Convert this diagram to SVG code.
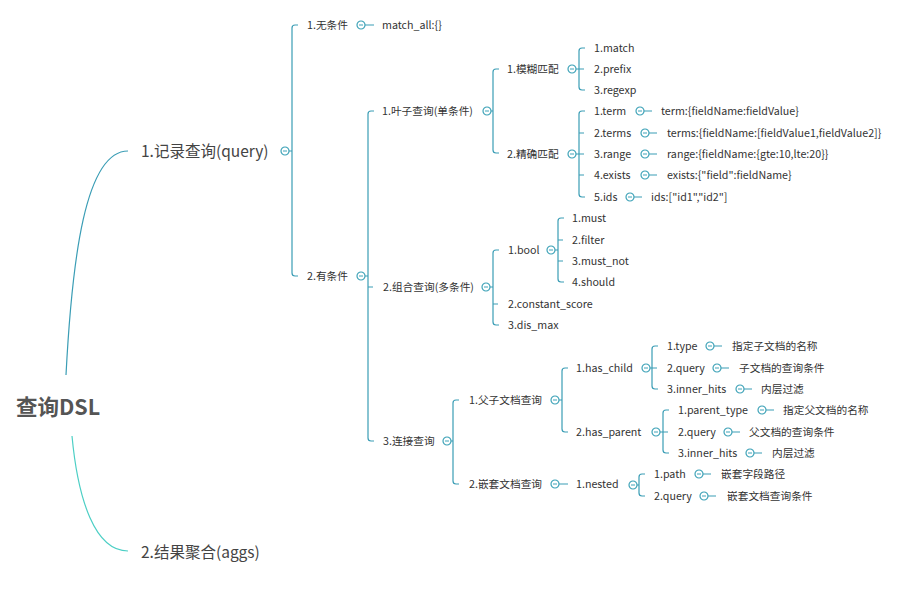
<svg xmlns="http://www.w3.org/2000/svg" xmlns:xlink="http://www.w3.org/1999/xlink" width="918" height="598" viewBox="0 0 918 598">
<style>
text{font-family:"Noto Sans CJK SC","Liberation Sans",sans-serif;fill:#333}
.t{font-size:10.7px}
.l1{font-size:15.5px;fill:#444}
.root{font-size:21.5px;font-weight:bold;fill:#555}
.br{fill:none;stroke:#3a9db5;stroke-width:1.2}
.cv1{fill:none;stroke:#3a9db5;stroke-width:1.2}
.cv2{fill:none;stroke:#4ccfc5;stroke-width:1.2}
.tg circle{fill:#fff;stroke:#3fa3b8;stroke-width:1.2}
.tg path{stroke:#3fa3b8;stroke-width:1}
</style>
<defs>
<g id="tog" class="tg"><circle cx="0" cy="0" r="4"/><path d="M-2,0H2"/></g>
</defs>
<rect width="918" height="598" fill="#fff"/>
<g id="connectors">
<path class="cv1" d="M66,375 C72,260 85,151 128,151"/>
<path class="cv2" d="M72,436 C78,500 95,551 128,551"/>
<path class="br" d="M298,25H295Q292,25 292,28V273Q292,276 295,276H298M289,151H292"/>
<path class="br" d="M374,111H371Q368,111 368,114V438Q368,441 371,441H374M368,287H373M365,276H368"/>
<path class="br" d="M499,69H496Q493,69 493,72V150Q493,153 496,153H499M491,111H493"/>
<path class="br" d="M585,48H582Q579,48 579,51V87Q579,90 582,90H585M579,69H584M576,69H579"/>
<path class="br" d="M585,111H582Q579,111 579,114V194Q579,197 582,197H585M579,133H584M579,154H584M579,175H584M576,154H579"/>
<path class="br" d="M499,250H496Q493,250 493,253V322Q493,325 496,325H499M493,304H498M490,287H493"/>
<path class="br" d="M564,218H561Q558,218 558,221V279Q558,282 561,282H564M558,240H563M558,261H563M555,250H558"/>
<path class="br" d="M459,400H456Q453,400 453,403V481Q453,484 456,484H459M451,441H453"/>
<path class="br" d="M568,368H565Q562,368 562,371V429Q562,432 565,432H568M559,400H562"/>
<path class="br" d="M658,346H655Q652,346 652,349V386Q652,389 655,389H658M652,368H657M650,368H652"/>
<path class="br" d="M669,410H666Q663,410 663,413V450Q663,453 666,453H669M663,432H668M660,432H663"/>
<path class="br" d="M645,474H642Q639,474 639,477V493Q639,496 642,496H645M637,485H639"/>
<path class="br" d="M365,25H374M559,484H568M644,111H652M649,133H657M649,154H657M649,175H657M634,197H642M714,346H722M721,368H729M744,389H752M766,410H774M732,432H740M754,453H762M703,474H711M708,496H716"/>
</g>
<g id="root"><text class="root" x="16" y="415">查询DSL</text></g>
<g id="n-query"><text class="l1" x="141" y="157">1.记录查询(query)</text><use xlink:href="#tog" x="285" y="151"/></g>
<g id="n-aggs"><text class="l1" x="141" y="558">2.结果聚合(aggs)</text></g>
<g id="n-nocond"><text class="t" x="307" y="29">1.无条件</text><use xlink:href="#tog" x="361" y="25"/></g>
<g id="n-matchall"><text class="t" x="382" y="29">match_all:{}</text></g>
<g id="n-cond"><text class="t" x="307" y="280">2.有条件</text><use xlink:href="#tog" x="361" y="276"/></g>
<g id="n-leaf"><text class="t" x="382" y="115">1.叶子查询(单条件)</text><use xlink:href="#tog" x="487" y="111"/></g>
<g id="n-fuzzy"><text class="t" x="507" y="73">1.模糊匹配</text><use xlink:href="#tog" x="572" y="69"/></g>
<g id="n-match"><text class="t" x="594" y="52">1.match</text></g>
<g id="n-prefix"><text class="t" x="594" y="73">2.prefix</text></g>
<g id="n-regexp"><text class="t" x="594" y="94">3.regexp</text></g>
<g id="n-exact"><text class="t" x="507" y="158">2.精确匹配</text><use xlink:href="#tog" x="572" y="154"/></g>
<g id="n-term"><text class="t" x="594" y="115">1.term</text><use xlink:href="#tog" x="640" y="111"/></g>
<g id="n-term-v"><text class="t" x="661" y="115">term:{fieldName:fieldValue}</text></g>
<g id="n-terms"><text class="t" x="594" y="137">2.terms</text><use xlink:href="#tog" x="645" y="133"/></g>
<g id="n-terms-v"><text class="t" x="667" y="137">terms:{fieldName:[fieldValue1,fieldValue2]}</text></g>
<g id="n-range"><text class="t" x="594" y="158">3.range</text><use xlink:href="#tog" x="645" y="154"/></g>
<g id="n-range-v"><text class="t" x="667" y="158">range:{fieldName:{gte:10,lte:20}}</text></g>
<g id="n-exists"><text class="t" x="594" y="179">4.exists</text><use xlink:href="#tog" x="645" y="175"/></g>
<g id="n-exists-v"><text class="t" x="667" y="179">exists:{"field":fieldName}</text></g>
<g id="n-ids"><text class="t" x="594" y="201">5.ids</text><use xlink:href="#tog" x="630" y="197"/></g>
<g id="n-ids-v"><text class="t" x="651" y="201">ids:["id1","id2"]</text></g>
<g id="n-compound"><text class="t" x="383" y="291">2.组合查询(多条件)</text><use xlink:href="#tog" x="486" y="287"/></g>
<g id="n-bool"><text class="t" x="508" y="254">1.bool</text><use xlink:href="#tog" x="551" y="250"/></g>
<g id="n-must"><text class="t" x="572" y="222">1.must</text></g>
<g id="n-filter"><text class="t" x="572" y="244">2.filter</text></g>
<g id="n-mustnot"><text class="t" x="572" y="265">3.must_not</text></g>
<g id="n-should"><text class="t" x="572" y="286">4.should</text></g>
<g id="n-cs"><text class="t" x="508" y="308">2.constant_score</text></g>
<g id="n-dismax"><text class="t" x="508" y="329">3.dis_max</text></g>
<g id="n-join"><text class="t" x="383" y="445">3.连接查询</text><use xlink:href="#tog" x="447" y="441"/></g>
<g id="n-pc"><text class="t" x="469" y="404">1.父子文档查询</text><use xlink:href="#tog" x="555" y="400"/></g>
<g id="n-haschild"><text class="t" x="576" y="372">1.has_child</text><use xlink:href="#tog" x="646" y="368"/></g>
<g id="n-hc-type"><text class="t" x="667" y="350">1.type</text><use xlink:href="#tog" x="710" y="346"/></g>
<g id="n-hc-type-v"><text class="t" x="732" y="350">指定子文档的名称</text></g>
<g id="n-hc-query"><text class="t" x="667" y="372">2.query</text><use xlink:href="#tog" x="717" y="368"/></g>
<g id="n-hc-query-v"><text class="t" x="739" y="372">子文档的查询条件</text></g>
<g id="n-hc-ih"><text class="t" x="667" y="393">3.inner_hits</text><use xlink:href="#tog" x="740" y="389"/></g>
<g id="n-hc-ih-v"><text class="t" x="761" y="393">内层过滤</text></g>
<g id="n-hasparent"><text class="t" x="576" y="436">2.has_parent</text><use xlink:href="#tog" x="656" y="432"/></g>
<g id="n-hp-type"><text class="t" x="678" y="414">1.parent_type</text><use xlink:href="#tog" x="762" y="410"/></g>
<g id="n-hp-type-v"><text class="t" x="783" y="414">指定父文档的名称</text></g>
<g id="n-hp-query"><text class="t" x="678" y="436">2.query</text><use xlink:href="#tog" x="728" y="432"/></g>
<g id="n-hp-query-v"><text class="t" x="749" y="436">父文档的查询条件</text></g>
<g id="n-hp-ih"><text class="t" x="678" y="457">3.inner_hits</text><use xlink:href="#tog" x="750" y="453"/></g>
<g id="n-hp-ih-v"><text class="t" x="772" y="457">内层过滤</text></g>
<g id="n-nesteddoc"><text class="t" x="469" y="488">2.嵌套文档查询</text><use xlink:href="#tog" x="555" y="484"/></g>
<g id="n-nested"><text class="t" x="576" y="488">1.nested</text><use xlink:href="#tog" x="633" y="485"/></g>
<g id="n-path"><text class="t" x="654" y="478">1.path</text><use xlink:href="#tog" x="699" y="474"/></g>
<g id="n-path-v"><text class="t" x="721" y="478">嵌套字段路径</text></g>
<g id="n-nq"><text class="t" x="654" y="500">2.query</text><use xlink:href="#tog" x="704" y="496"/></g>
<g id="n-nq-v"><text class="t" x="727" y="500">嵌套文档查询条件</text></g>
</svg>
